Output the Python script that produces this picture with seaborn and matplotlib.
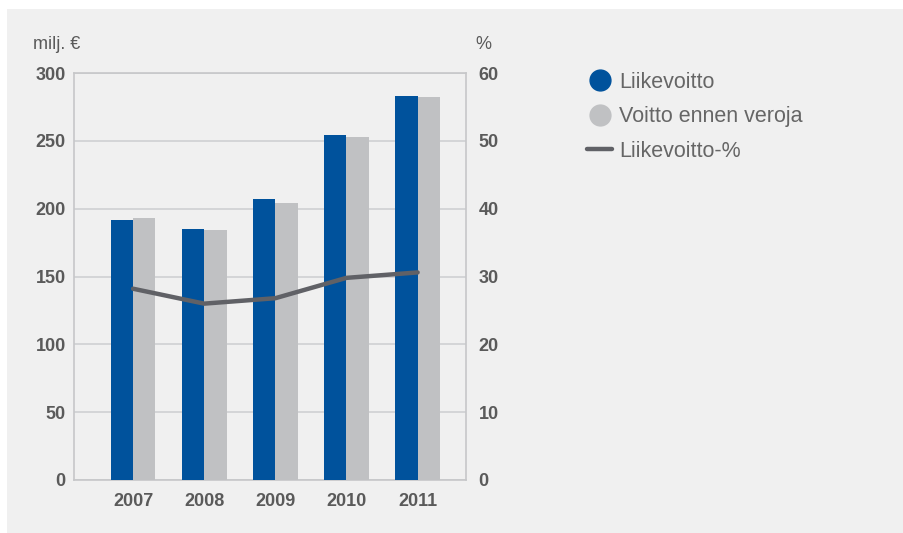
import pandas as pd
import matplotlib.pyplot as plt
import seaborn as sns
from matplotlib.lines import Line2D
from matplotlib.patches import Rectangle

years = ["2007", "2008", "2009", "2010", "2011"]
liikevoitto = [192, 185, 207, 254, 283]
voitto_ennen_veroja = [193, 184, 204, 253, 282]
liikevoitto_pct = [28.2, 26.0, 26.8, 29.8, 30.6]

BLUE = "#00529c"
GREY_BAR = "#c0c1c3"
LINE = "#606166"
TXT = "#5a5a5a"

df = pd.DataFrame({
    "year": years * 2,
    "value": liikevoitto + voitto_ennen_veroja,
    "series": ["Liikevoitto"] * 5 + ["Voitto ennen veroja"] * 5,
})

sns.set_style("white")
plt.rcParams["font.family"] = ["Liberation Sans", "DejaVu Sans"]

fig = plt.figure(figsize=(9.04, 5.33), dpi=100, facecolor="white")
# light grey panel behind the chart
fig.patches.append(Rectangle((7 / 904, 0), 897 / 904, 524 / 533, transform=fig.transFigure,
                             facecolor="#f0f0f0", edgecolor="none", zorder=-10))

ax = fig.add_axes([74 / 904, 1 - 480 / 533, 392 / 904, 407 / 533])
ax.set_facecolor("none")
sns.barplot(data=df, x="year", y="value", hue="series", palette=[BLUE, GREY_BAR],
            width=0.63, gap=0, saturation=1, linewidth=0, ax=ax, legend=False, zorder=3)
ax.set_ylim(0, 300)
ax.set_xlim(-0.83, 4.68)
ax.set_yticks(range(0, 301, 50))
ax.grid(axis="y", color="#cfd0d2", linewidth=1.2, zorder=0)
ax.set_axisbelow(True)
for s in ax.spines.values():
    s.set_color("#c6c7c9")
    s.set_linewidth(1.2)
ax.set_xlabel("")
ax.set_ylabel("")
ax.tick_params(axis="both", length=0, labelsize=13, labelcolor=TXT)
ax.tick_params(axis="y", pad=6)
ax.tick_params(axis="x", pad=9)
for lbl in ax.get_xticklabels() + ax.get_yticklabels():
    lbl.set_fontweight("bold")

ax2 = ax.twinx()
sns.lineplot(x=list(range(len(years))), y=liikevoitto_pct, color=LINE, linewidth=3.2, ax=ax2,
             solid_capstyle="round", zorder=5)
ax2.set_ylim(0, 60)
ax2.set_yticks(range(0, 61, 10))
ax2.grid(False)
for s in ax2.spines.values():
    s.set_visible(False)
ax2.tick_params(axis="y", length=0, labelsize=13, labelcolor=TXT, pad=9)
for lbl in ax2.get_yticklabels():
    lbl.set_fontweight("bold")

fig.text(33 / 904, 1 - 45 / 533, "milj. €", fontsize=13, color=TXT, va="center", ha="left")
fig.text(475 / 904, 1 - 45 / 533, "%", fontsize=13, color=TXT, va="center", ha="left")

handles = [
    Line2D([], [], marker="o", linestyle="none", markersize=15, color=BLUE),
    Line2D([], [], marker="o", linestyle="none", markersize=15, color=GREY_BAR),
    Line2D([], [], color=LINE, linewidth=3.2),
]
labels = ["Liikevoitto", "Voitto ennen veroja", "Liikevoitto-%"]
fig.legend(handles, labels, loc="upper left", bbox_to_anchor=(578 / 904, 1 - 63 / 533),
           frameon=False, fontsize=15.5, labelcolor="#666666", handlelength=1.2,
           handletextpad=0.3, labelspacing=0.63, borderaxespad=0)

fig.savefig("out.png", dpi=100, facecolor="white")
